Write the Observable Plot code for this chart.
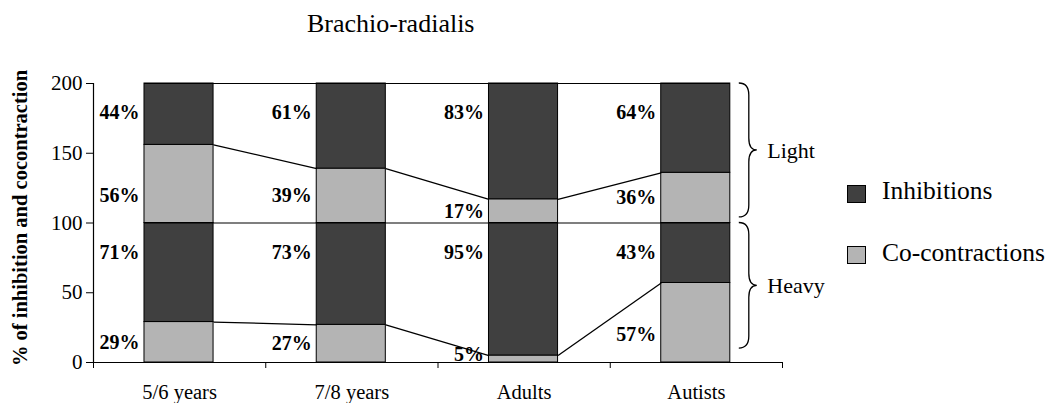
<!DOCTYPE html>
<html>
<head>
<meta charset="utf-8">
<script src="https://cdn.jsdelivr.net/npm/d3@7"></script>
<script src="https://cdn.jsdelivr.net/npm/@observablehq/plot@0.6"></script>
<style>
  body { margin: 0; background: #fff; }
  #wrap { position: relative; width: 1050px; height: 403px; overflow: hidden; font-family: "Liberation Serif", "Times New Roman", serif; color: #000; }
  #title { position: absolute; left: 307px; top: 0; height: 47px; line-height: 47px; font-size: 26px; white-space: nowrap; }
  #chart { position: absolute; left: 0; top: 47px; }
  #chart svg, #chart svg text { font-family: "Liberation Serif", "Times New Roman", serif !important; }
  .sw { position: absolute; left: 847px; width: 19px; height: 18px; box-sizing: border-box; border: 1px solid #000; }
  .lt { position: absolute; left: 882px; font-size: 25.5px; line-height: 30px; white-space: nowrap; }
</style>
</head>
<body>
<div id="wrap">
  <div id="title">Brachio-radialis</div>
  <div id="chart"></div>
  <div id="legend"></div>
</div>
<script>
// ---- data ----
const categories = ["5/6 years", "7/8 years", "Adults", "Autists"];
const lightInhibitions = [44, 61, 83, 64];
const lightCocontractions = [56, 39, 17, 36];
const heavyInhibitions = [71, 73, 95, 43];
const heavyCocontractions = [29, 27, 5, 57];
const groupNames = ["Light", "Heavy"];
const groupOffsets = [100, 0];          // stacking offset of each load group
const braceTops = [200, 100];
const braceBottoms = [104, 10];
const yTicks = [0, 50, 100, 150, 200];
const seriesNames = ["Inhibitions", "Co-contractions"];
const seriesColors = ["#404040", "#b4b4b4"];
const yLabel = "% of inhibition and cocontraction";

const FONT = "Liberation Serif, Times New Roman, serif";

// ---- derived tables ----
const A = 0.296, B = 0.697; // bar edges within each category slot
const groupData = [
  {name: groupNames[0], base: groupOffsets[0], inh: lightInhibitions, co: lightCocontractions},
  {name: groupNames[1], base: groupOffsets[1], inh: heavyInhibitions, co: heavyCocontractions}
];
const rows = [];
const links = [];
for (const g of groupData) {
  categories.forEach((c, i) => {
    const coTop = g.base + g.co[i];
    rows.push({i, group: g.name, type: seriesNames[1], y1: g.base, y2: coTop, pct: g.co[i]});
    rows.push({i, group: g.name, type: seriesNames[0], y1: coTop, y2: coTop + g.inh[i], pct: g.inh[i]});
    if (i < categories.length - 1) {
      links.push({x1: i + B, x2: i + 1 + A, y1: coTop, y2: g.base + g.co[i + 1]});
    }
  });
}
function labelY(d) {
  const half = (d.y2 - d.y1) / 2;
  if (d.type === seriesNames[0]) return d.y2 - Math.min(half, 21);
  return d.y1 + Math.max(6, Math.min(half, 20));
}
const braces = groupNames.map((n, k) => ({name: n, top: braceTops[k], bottom: braceBottoms[k], mid: (braceTops[k] + braceBottoms[k]) / 2}));

function braceMark(index, scales) {
  const g = d3.create("svg:g").attr("fill", "none").attr("stroke", "#000").attr("stroke-width", 1.3);
  const x0 = scales.x(3 + B) + 9, stem = x0 + 10, tip = x0 + 18, r = 12;
  for (const br of braces) {
    const yt = scales.y(br.top), yb = scales.y(br.bottom), ym = (yt + yb) / 2;
    g.append("path").attr("d",
      `M${x0},${yt}Q${stem},${yt} ${stem},${yt + r}L${stem},${ym - r}Q${stem},${ym} ${tip},${ym}` +
      `Q${stem},${ym} ${stem},${ym + r}L${stem},${yb - r}Q${stem},${yb} ${x0},${yb}`);
  }
  return g.node();
}

const chart = Plot.plot({
  width: 1050,
  height: 356,
  marginLeft: 93,
  marginRight: 268,
  marginTop: 36,
  marginBottom: 41,
  style: {fontFamily: FONT, fontSize: "21px", color: "#000", background: "#fff"},
  x: {type: "linear", domain: [0, 4]},
  y: {domain: [0, 200]},
  color: {domain: seriesNames, range: seriesColors},
  marks: [
    Plot.rect(rows, {x1: d => d.i + A, x2: d => d.i + B, y1: "y1", y2: "y2", fill: "type", stroke: "#000", strokeWidth: 1}),
    Plot.ruleY([100, 200], {x1: A, x2: 3 + B, stroke: "#000", strokeWidth: 1.2}),
    Plot.link(links, {x1: "x1", y1: "y1", x2: "x2", y2: "y2", stroke: "#000", strokeWidth: 1.3}),
    Plot.text(rows, {x: d => d.i + A, y: labelY, text: d => d.pct + "%", textAnchor: "end", dx: -5, fontWeight: "bold", fontSize: 20, fontFamily: FONT}),
    Plot.ruleX([0], {stroke: "#000", strokeWidth: 1.2}),
    Plot.ruleY([0], {stroke: "#000", strokeWidth: 1.2}),
    Plot.axisY({ticks: yTicks, tickSize: 7, tickPadding: 4, fontSize: 21, fontFamily: FONT, label: null, stroke: "#000"}),
    Plot.axisX({ticks: [0, 1, 2, 3, 4], tickSize: 6, tickFormat: () => "", label: null}),
    Plot.axisX({ticks: categories.map((c, i) => i + 0.5), tickSize: 0, tickPadding: 22, tickFormat: v => categories[Math.floor(v)], fontSize: 20.5, fontFamily: FONT, label: null}),
    braceMark,
    Plot.text(braces, {x: () => 3 + B, y: "mid", text: "name", textAnchor: "start", dx: 37, fontSize: 22, fontFamily: FONT}),
    Plot.text([yLabel], {text: d => d, frameAnchor: "left", textAnchor: "middle", rotate: -90, dx: -73, dy: -5, fontWeight: "bold", fontSize: 20.5, fontFamily: FONT})
  ]
});
document.getElementById("chart").appendChild(chart);

// legend
const legend = document.getElementById("legend");
const swTops = [185, 246];
const textTops = [176, 238];
seriesNames.forEach((n, k) => {
  const s = document.createElement("div");
  s.className = "sw";
  s.style.top = swTops[k] + "px";
  s.style.background = seriesColors[k];
  legend.appendChild(s);
  const t = document.createElement("div");
  t.className = "lt";
  t.style.top = textTops[k] + "px";
  t.textContent = n;
  legend.appendChild(t);
});
</script>
</body>
</html>
